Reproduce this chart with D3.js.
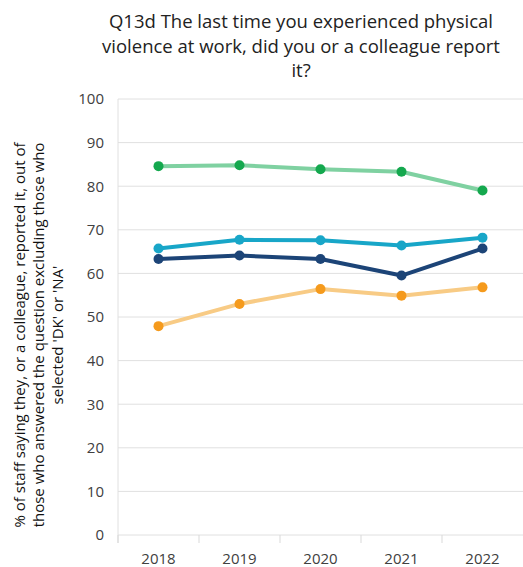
<!DOCTYPE html>
<html><head><meta charset="utf-8">
<script src="https://cdn.jsdelivr.net/npm/d3@7"></script>
<style>body{margin:0;background:#fff}svg{display:block}</style>
</head><body>
<script>
const years = ["2018","2019","2020","2021","2022"];
const yTicks = [0,10,20,30,40,50,60,70,80,90,100];
const seriesGreen = [84.6, 84.8, 83.9, 83.3, 79.0];
const seriesLightBlue = [65.7, 67.7, 67.6, 66.4, 68.2];
const seriesNavy = [63.3, 64.1, 63.3, 59.5, 65.7];
const seriesOrange = [47.9, 53.0, 56.4, 54.9, 56.8];
const titleLines = ["Q13d The last time you experienced physical","violence at work, did you or a colleague report","it?"];
const yLabelLines = ["% of staff saying they, or a colleague, reported it,  out of","those who answered the question excluding those who","selected 'DK' or 'NA'"];

const series = [
  {values: seriesGreen, line: "#7fd1a1", dot: "#14a84e"},
  {values: seriesLightBlue, line: "#18a6c8", dot: "#18a6c8"},
  {values: seriesNavy, line: "#1c4477", dot: "#1c4477"},
  {values: seriesOrange, line: "#f8cb85", dot: "#f59a1c"}
];

const W = 523, H = 567;
const svg = d3.select("body").append("svg").attr("width", W).attr("height", H);
const font = "'Open Sans', 'Liberation Sans', sans-serif";

const x = d3.scaleBand().domain(years).range([118, 523]).paddingInner(0).paddingOuter(0);
const y = d3.scaleLinear().domain([0,100]).range([535, 99]);

svg.append("g").selectAll("line").data(yTicks).join("line")
  .attr("x1", 118).attr("x2", W).attr("y1", d => y(d)).attr("y2", d => y(d))
  .attr("stroke", "#e0e0e0").attr("stroke-width", 1);

svg.append("line").attr("x1",118).attr("x2",118).attr("y1",y(100)).attr("y2",y(0)+8)
  .attr("stroke","#e0e0e0");
svg.append("g").selectAll("line").data(years).join("line")
  .attr("x1", d => x(d)).attr("x2", d => x(d)).attr("y1", y(0)).attr("y2", y(0)+8)
  .attr("stroke","#d9d9d9");

const yAxis = d3.axisLeft(y).tickValues(yTicks).tickSize(0).tickPadding(0);
const gy = svg.append("g").attr("transform","translate(104,0)").call(yAxis);
gy.select(".domain").remove();
gy.selectAll("text").attr("font-family", font).attr("font-size", 15).attr("fill","#404040");

const xAxis = d3.axisBottom(x).tickSize(0).tickPadding(0);
const gx = svg.append("g").attr("transform","translate(0,553)").call(xAxis);
gx.select(".domain").remove();
gx.selectAll("text").attr("font-family", font).attr("font-size", 15).attr("fill","#404040").attr("dy","0.71em");

const cx = d => x(d) + x.bandwidth()/2;
const line = d3.line().x((d,i) => cx(years[i])).y(d => y(d));

series.forEach(s => {
  svg.append("path").attr("d", line(s.values)).attr("fill","none")
    .attr("stroke", s.line).attr("stroke-width", 4).attr("stroke-linejoin","round");
});
series.forEach(s => {
  svg.append("g").selectAll("circle").data(s.values).join("circle")
    .attr("cx", (d,i) => cx(years[i])).attr("cy", d => y(d)).attr("r", 5)
    .attr("fill", s.dot);
});

svg.append("text").attr("font-family", font).attr("font-size", 18.5).attr("fill","#222")
  .attr("text-anchor","middle")
  .selectAll("tspan").data(titleLines).join("tspan")
  .attr("x", 301).attr("y", (d,i) => 28 + i*24.5).text(d => d);

svg.append("text").attr("font-family", font).attr("font-size", 15).attr("fill","#111")
  .attr("text-anchor","middle")
  .attr("transform","translate(0,335) rotate(-90)")
  .selectAll("tspan").data(yLabelLines).join("tspan")
  .attr("x", 0).attr("y", (d,i) => 25 + i*19).text(d => d);
</script>
</body></html>
